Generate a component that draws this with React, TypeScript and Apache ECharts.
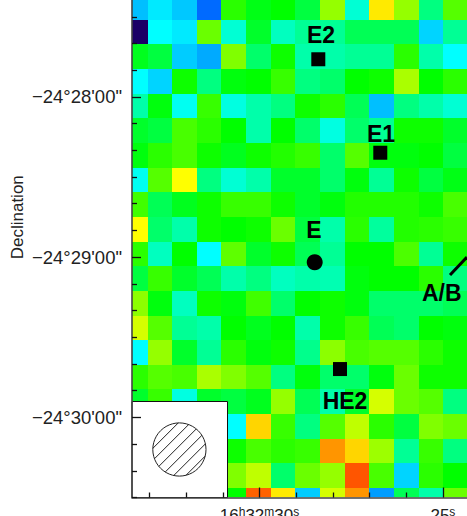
import React, { useEffect, useRef } from "react";
import * as echarts from "echarts";

// Cell levels: columns run west (left) to east (right), rows north (top) to south. null = hidden under the beam inset.
const row00 = [4.5, 5.5, 4.7, 2.5, 13, 11.5, 12, 10.5, 15.5, 7, 18.5, 15.5, 9, 14];
const row01 = [-2, 6, 5.5, 14.5, 7, 11, 7.5, 8.5, 8.5, 10, 10, 10, 5, 8.5];
const row02 = [11.3, 10.5, 4.8, 4, 15, 9.5, 12.3, 8, 8, 8.5, 8.5, 13, 8, 6];
const row03 = [6, 5, 12.3, 9, 11.7, 12, 13.3, 9, 9.5, 12, 12.3, 16, 12, 13];
const row04 = [8, 11.7, 6.3, 13.3, 6.7, 8, 9, 12.3, 13, 10, 4.5, 9, 8, 7];
const row05 = [11, 10.5, 13.7, 13, 12, 8, 12, 9.5, 6.7, 9.5, 8.5, 12.3, 12.3, 11];
const row06 = [11.7, 13, 13.7, 12.3, 11.3, 12.3, 12.8, 13.3, 9.5, 14, 11.7, 11.7, 12, 10.5];
const row07 = [6.3, 14, 18, 9, 7, 8, 11, 11, 9.5, 11.7, 8.5, 12.3, 10.5, 11.5];
const row08 = [13.5, 10, 11.3, 12.3, 13.3, 13.3, 12.3, 11, 11.7, 12.8, 12.8, 12.8, 12.3, 13.7];
const row09 = [18, 9.5, 8, 12.3, 12, 12.3, 14.5, 10.5, 8, 13, 8.3, 12.8, 13, 13.3];
const row10 = [13, 7.5, 12, 6, 14.2, 11, 12.3, 10, 8.5, 12, 12, 13.8, 8.5, 12.3];
const row11 = [10.5, 13.3, 11, 10, 8, 9, 7.5, 8, 7.8, 11.7, 12, 12, 13, 9];
const row12 = [15.3, 11.7, 7.5, 12.3, 11.7, 13.5, 9.5, 12, 12.3, 11.7, 9.5, 9.5, 9.5, 10];
const row13 = [17, 14, 8.5, 8, 12, 11.3, 12, 8, 12.3, 13.3, 10, 9.5, 12, 11.7];
const row14 = [6, 15.5, 11, 8.5, 13, 11.7, 12.3, 8.7, 15.3, 13.7, 14, 14, 13, 12.3];
const row15 = [13, 14, 13.7, 16, 15, 14, 9, 11.7, 9.5, 9.5, 11.7, 14.5, 12.3, 12.3];
const row16 = [11, 13.3, 6.7, 11, 10.5, 11.3, 15.5, 10, 8, 11, 17, 14.5, 14, 9];
const row17 = [null, null, null, null, 6, 19, 13.3, 9, 14, 16.5, 13, 10.5, 15, 14.5];
const row18 = [null, null, null, null, 12.3, 13.7, 13, 13.3, 20.5, 19, 15.7, 8.5, 13.3, 9];
const row19 = [null, null, null, null, 15, 16.5, 9.5, 14.5, 15.5, 22, 13.7, 5, 13, 12];
const row20 = [null, null, null, null, 12, 21.7, 18.5, 4.8, 17, 20.5, 3.7, 10, 8, 14.5];
const rows = [row00, row01, row02, row03, row04, row05, row06, row07, row08, row09, row10,
  row11, row12, row13, row14, row15, row16, row17, row18, row19, row20];

// Sky grid of the map: RA seconds of 16h32m, Dec arcsec from -24 deg.
const raFirstCentre = 33.389;
const raStep = 0.672;
const decFirstCentre = -1646.49;
const decStep = 9.23;

const raMajor = [30, 25];
const raMinor = [26, 27, 28, 29, 31, 32, 33];
const decMajor = [-1680, -1740, -1800];
const decMinor = [-1650, -1660, -1670, -1690, -1700, -1710, -1720, -1730, -1750, -1760, -1770, -1780, -1790, -1810, -1820, -1830];
const raLabels: Record<number, string> = { 30: "{n|16}{s|h}{n|32}{s|m}{n|30}{s|s}", 25: "{n|25}{s|s}" };
const decLabels: Record<number, string> = { [-1680]: "\u221224\u00b028'00\"", [-1740]: "\u221224\u00b029'00\"", [-1800]: "\u221224\u00b030'00\"" };

const squareRA = [28.397, 26.707, 27.805];
const squareDec = [-1665.9, -1700.9, -1781.9];
const circleRA = [28.495];
const circleDec = [-1741.9];
const labelNames = ["E2", "E1", "E", "HE2", "A/B"];
const labelRA = [28.323, 26.688, 28.514, 27.669, 25.033];
const labelDec = [-1656.9, -1693.9, -1729.8, -1793.8, -1753.5];
const pointerRA = [24.806, 24.343];
const pointerDec = [-1746.7, -1740];

function levelColor(level: number) {
  if (level < 0) return "#1b0066";
  return `hsl(${240 - level * 10}, 100%, 50%)`;
}

const cells: number[][] = [];
rows.forEach((row, r) => row.forEach((v, c) => {
  if (v !== null) cells.push([raFirstCentre - c * raStep, decFirstCentre - r * decStep, v as number]);
}));

function hatch(cx: number, cy: number, r: number, spacing: number, first: number, count: number) {
  const out: any[] = [];
  for (let d = 0; d < count; d++) {
    const off = first + d * spacing;
    if (Math.abs(off) >= r) continue;
    const half = Math.sqrt(r * r - off * off);
    const mx = cx + off * Math.SQRT1_2;
    const my = cy + off * Math.SQRT1_2;
    out.push({
      type: "line", z: 3,
      shape: { x1: mx - half * Math.SQRT1_2, y1: my + half * Math.SQRT1_2, x2: mx + half * Math.SQRT1_2, y2: my - half * Math.SQRT1_2 },
      style: { stroke: "#222", lineWidth: 1 },
    });
  }
  return out;
}

const tickFont = { fontFamily: "Liberation Sans", fontSize: 17, color: "#222" };

function makeOption(): any {
  const xBase = { type: "value", min: 24.343, max: 33.476, inverse: true, position: "bottom", splitLine: { show: false }, z: 10 };
  const yBase = { type: "value", min: -1830, max: -1643.71, position: "left", splitLine: { show: false }, z: 10 };
  const axisLine = { show: true, onZero: false, lineStyle: { color: "#444", width: 1.6 } };
  return {
    animation: false,
    backgroundColor: "#fff",
    grid: { left: 132, right: 0, top: 0, bottom: 18.5, containLabel: false, outerBoundsMode: "none" },
    xAxis: [
      {
        ...xBase, axisLine,
        axisTick: { show: true, inside: true, length: 10, customValues: raMajor, lineStyle: { color: "#111", width: 1.3 } },
        axisLabel: {
          show: true, margin: 9, customValues: raMajor, hideOverlap: false, showMinLabel: true, showMaxLabel: true,
          formatter: (v: number) => raLabels[v] ?? "",
          ...tickFont,
          rich: { n: { ...tickFont, lineHeight: 18 }, s: { ...tickFont, fontSize: 12, lineHeight: 18, padding: [0, 0, 7, 0] } },
        },
      },
      {
        ...xBase, axisLine: { show: false },
        axisTick: { show: true, inside: true, length: 5, customValues: raMinor, lineStyle: { color: "#111", width: 1.3 } },
        axisLabel: { show: false },
      },
    ],
    yAxis: [
      {
        ...yBase, axisLine,
        name: "Declination", nameLocation: "middle", nameGap: 106, nameRotate: 90, nameMoveOverlap: false,
        nameTextStyle: { ...tickFont, padding: [0, 0, 0, 63] },
        axisTick: { show: true, inside: true, length: 9, customValues: decMajor, lineStyle: { color: "#111", width: 1.3 } },
        axisLabel: {
          show: true, margin: 10, customValues: decMajor, hideOverlap: false,
          formatter: (v: number) => decLabels[v] ?? "",
          ...tickFont, fontSize: 18.5,
        },
      },
      {
        ...yBase, axisLine: { show: false },
        axisTick: { show: true, inside: true, length: 5, customValues: decMinor, lineStyle: { color: "#111", width: 1.3 } },
        axisLabel: { show: false },
      },
    ],
    series: [
      {
        type: "custom", silent: true, z: 2, clip: true,
        data: cells,
        encode: { x: 0, y: 1 },
        renderItem: (params: any, api: any) => {
          const ra = api.value(0), dec = api.value(1);
          const a = api.coord([ra + raStep / 2, dec + decStep / 2]);
          const b = api.coord([ra - raStep / 2, dec - decStep / 2]);
          const x0 = Math.round(a[0]), y0 = Math.round(a[1]), x1 = Math.round(b[0]), y1 = Math.round(b[1]);
          const rect = echarts.graphic.clipRectByRect(
            { x: x0, y: y0, width: x1 - x0, height: y1 - y0 },
            params.coordSys,
          );
          if (!rect) return null;
          return { type: "rect", shape: rect, style: { fill: levelColor(api.value(2)), stroke: null } };
        },
      },
      {
        type: "scatter", silent: true, z: 5, symbol: "rect", symbolSize: 14,
        itemStyle: { color: "#000", opacity: 1 },
        data: squareRA.map((v, i) => [v, squareDec[i]]),
      },
      {
        type: "scatter", silent: true, z: 5, symbol: "circle", symbolSize: 16,
        itemStyle: { color: "#000", opacity: 1 },
        data: circleRA.map((v, i) => [v, circleDec[i]]),
      },
      {
        type: "line", silent: true, z: 5, symbol: "none",
        lineStyle: { color: "#000", width: 3, opacity: 1 },
        data: pointerRA.map((v, i) => [v, pointerDec[i]]),
      },
      {
        type: "scatter", silent: true, z: 6, symbolSize: 0,
        itemStyle: { opacity: 1 },
        data: labelNames.map((n, i) => ({ name: n, value: [labelRA[i], labelDec[i]] })),
        label: {
          show: true, position: "inside", formatter: "{b}", color: "#000", opacity: 1,
          fontFamily: "Liberation Sans", fontWeight: "bold", fontSize: 23,
        },
      },
    ],
    graphic: {
      elements: [
        { type: "rect", z: 3, shape: { x: 132, y: 401.5, width: 95.5, height: 96 }, style: { fill: "#fff", stroke: "#111", lineWidth: 1 } },
        { type: "circle", z: 3, shape: { cx: 179.4, cy: 449.5, r: 26.6 }, style: { fill: "#fff", stroke: "#222", lineWidth: 1 } },
        ...hatch(179.4, 449.5, 26.6, 8.5, -19.6, 6),
      ],
    },
  };
}

export default function App() {
  const ref = useRef<HTMLDivElement>(null);
  useEffect(() => {
    const chart = echarts.init(ref.current!, undefined, { renderer: "svg" });
    chart.setOption(makeOption());
    return () => chart.dispose();
  }, []);
  return <div ref={ref} style={{ position: "fixed", left: 0, top: 0, width: 467, height: 516 }} />;
}
